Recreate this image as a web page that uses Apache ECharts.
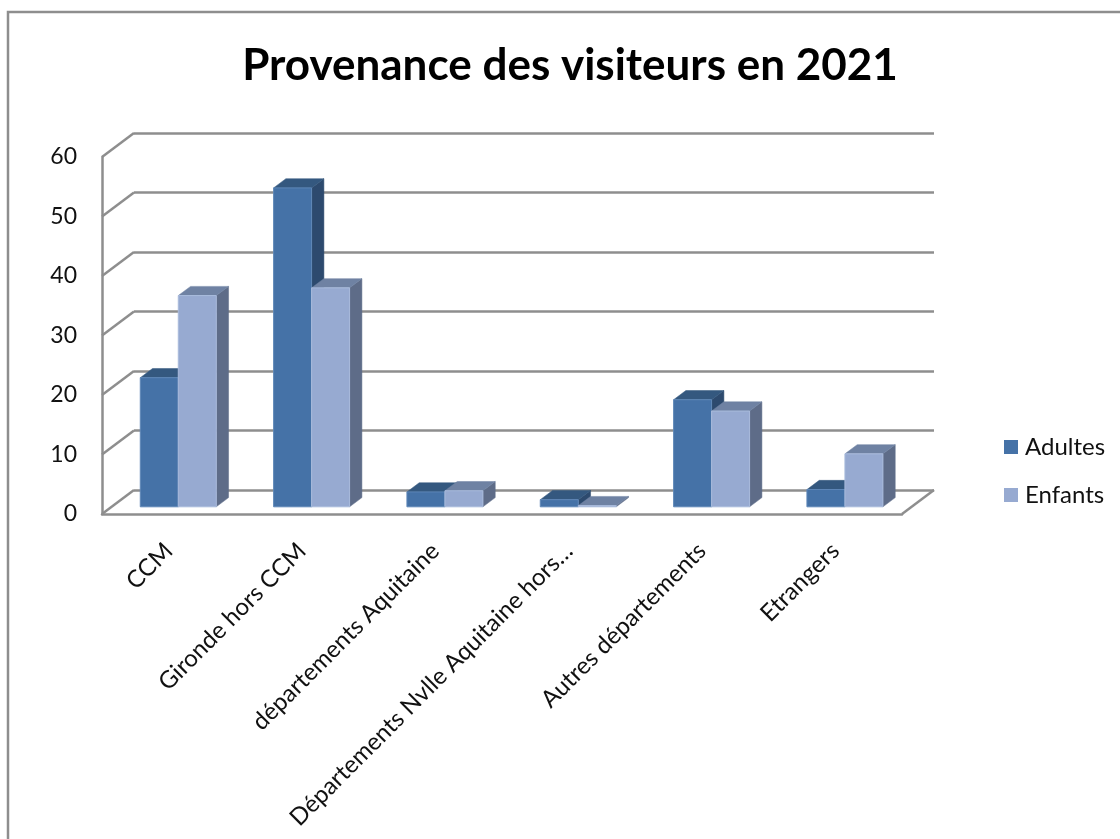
<!DOCTYPE html>
<html><head><meta charset="utf-8">
<style>html,body{margin:0;padding:0;background:#fff}#c{width:1120px;height:839px;filter:blur(0.5px)}</style>
<script src="https://cdn.jsdelivr.net/npm/echarts@6/dist/echarts.min.js"></script>
</head><body><div id="c"></div>
<script>
const categories = ["CCM","Gironde hors CCM","départements Aquitaine","Départements Nvlle Aquitaine hors…","Autres départements","Etrangers"];
const adultes = [21.7,53.6,2.5,1.2,18,2.9];
const enfants = [35.5,36.8,2.7,0.2,16.1,8.9];
const valueTicks = [0,10,20,30,40,50,60];
const titleText = "Provenance des visiteurs en 2021";

const FONT = 'Lato';
const GRID = '#8e8e8e';
const GRID_W = 2.5;
const WALL_DX = 32, WALL_DY = -24;
const BAR_W = 38, BAR_DX = 12.3, BAR_DY = -9.2, BAR_SHIFT_X = 9.6, BAR_SHIFT_Y = -7.2;

function poly(points, fill, stroke){
  return {type:'polygon', shape:{points}, style:{fill, stroke: stroke||fill, lineWidth:stroke?1:0.5}};
}
function barRenderer(front, top, side, edge, firstOfPair){
  return function(params, api){
    const i = api.value(0), v = api.value(1);
    const p = api.coord([i, v]), b = api.coord([i, 0]);
    const x0 = p[0] + BAR_SHIFT_X - (firstOfPair ? BAR_W : 0), x1 = x0 + BAR_W;
    const yT = p[1] + BAR_SHIFT_Y, yB = b[1] + BAR_SHIFT_Y;
    return {type:'group', children:[
      poly([[x1,yB],[x1+BAR_DX,yB+BAR_DY],[x1+BAR_DX,yT+BAR_DY],[x1,yT]], side),
      poly([[x0,yT],[x0+BAR_DX,yT+BAR_DY],[x1+BAR_DX,yT+BAR_DY],[x1,yT]], top),
      poly([[x0,yT],[x1,yT],[x1,yB],[x0,yB]], front, edge)
    ]};
  };
}
function wallRenderer(params, api){
  const t = api.value(0), cs = params.coordSys;
  const y = api.coord([0, t])[1];
  const line = (x1,y1,x2,y2)=>({type:'line', shape:{x1,y1,x2,y2}, style:{stroke:GRID, lineWidth:GRID_W}});
  const kids = [line(cs.x, y, cs.x+WALL_DX, y+WALL_DY)];
  if (t === 0) kids.push(line(cs.x+cs.width, y, cs.x+cs.width+WALL_DX, y+WALL_DY));
  return {type:'group', children:kids};
}

const chart = echarts.init(document.getElementById('c'), null, {renderer:'canvas'});
chart.setOption({
  animation:false,
  backgroundColor:'#fff',
  textStyle:{fontFamily:FONT},
  title:{text:titleText, left:565, top:39, textAlign:'center',
    textStyle:{fontFamily:FONT, fontWeight:'bold', fontSize:44, color:'#000'}},
  graphic:[{type:'polyline', silent:true, z:-1, shape:{points:[[8,839],[8,12],[1120,12]]},
    style:{stroke:GRID, lineWidth:GRID_W, fill:null}}],
  legend:{left:999, top:430, orient:'vertical', itemWidth:14, itemHeight:14, itemGap:24,
    icon:'rect', textStyle:{fontFamily:FONT, fontSize:24, color:'#111', padding:[0,0,0,2]},
    data:['Adultes','Enfants']},
  grid:[
    {left:102, top:157, width:800, height:357, outerBoundsMode:'none', containLabel:false},
    {left:134, top:133, width:800, height:357, outerBoundsMode:'none', containLabel:false}
  ],
  xAxis:[
    {type:'category', gridIndex:0, data:categories, axisTick:{show:false},
      axisLine:{show:true, lineStyle:{color:GRID, width:GRID_W}},
      axisLabel:{interval:0, rotate:45, margin:33, fontFamily:FONT, fontSize:24, color:'#111', hideOverlap:false}},
    {type:'category', gridIndex:1, data:categories, show:false}
  ],
  yAxis:[
    {type:'value', gridIndex:0, min:0, max:60, interval:10,
      axisLine:{show:true, lineStyle:{color:GRID, width:GRID_W}}, axisTick:{show:false},
      splitLine:{show:false},
      axisLabel:{margin:25, fontFamily:FONT, fontSize:23, color:'#111'}},
    {type:'value', gridIndex:1, min:0, max:60, interval:10,
      axisLine:{show:false}, axisTick:{show:false}, axisLabel:{show:false},
      splitLine:{show:true, lineStyle:{color:GRID, width:GRID_W}}}
  ],
  series:[
    {type:'custom', name:'walls', xAxisIndex:0, yAxisIndex:0, silent:true, z:1,
      renderItem:wallRenderer, encode:{y:0}, data:valueTicks.map(t=>[t]), clip:false},
    {type:'custom', name:'Adultes', xAxisIndex:0, yAxisIndex:0, z:3, clip:false,
      itemStyle:{color:'#4572a7'},
      renderItem:barRenderer('#4572a7','#34587f','#2d4a6e','#5f88b8',true),
      encode:{x:0,y:1}, data:adultes.map((v,i)=>[i,v])},
    {type:'custom', name:'Enfants', xAxisIndex:0, yAxisIndex:0, z:4, clip:false,
      itemStyle:{color:'#97aad1'},
      renderItem:barRenderer('#97aad1','#6f82a3','#5e6c88','#a9bbdc',false),
      encode:{x:0,y:1}, data:enfants.map((v,i)=>[i,v])}
  ]
});
</script></body></html>
